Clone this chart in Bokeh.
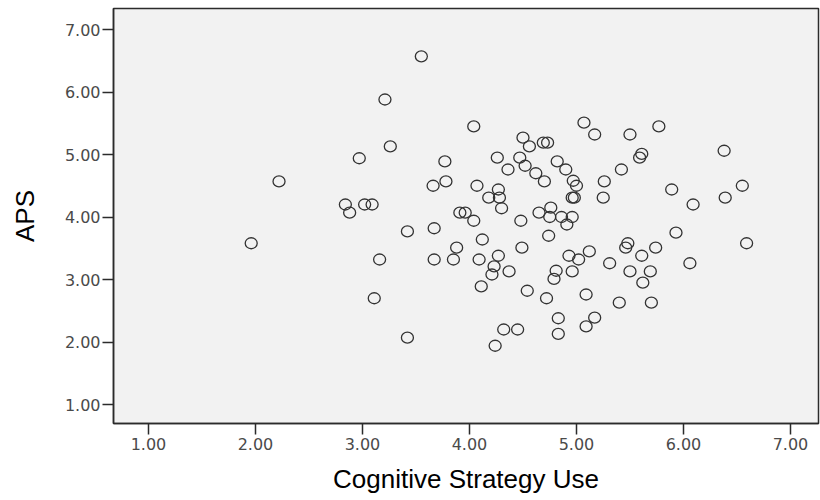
from bokeh.plotting import figure
from bokeh.models import FixedTicker, PrintfTickFormatter, Range1d
from bokeh.embed import file_html
from bokeh.resources import INLINE

cognitive = [1.96, 2.22, 2.84, 2.88, 3.02, 3.09, 2.97, 3.26, 3.21, 3.55,
             3.16, 3.11, 3.42, 3.42, 3.66, 3.67, 3.67, 3.78, 3.77, 3.85,
             3.88, 3.91, 3.96, 4.04, 4.04, 4.07, 4.09, 4.11, 4.12, 4.18,
             4.21, 4.23, 4.24, 4.26, 4.27, 4.28, 4.27, 4.30, 4.32, 4.36,
             4.37, 4.45, 4.47, 4.48, 4.49, 4.50, 4.52, 4.54, 4.56, 4.62,
             4.65, 4.69, 4.73, 4.70, 4.72, 4.74, 4.75, 4.76, 4.79, 4.81,
             4.82, 4.83, 4.83, 4.86, 4.90, 4.91, 4.93, 4.96, 4.96, 4.96,
             4.98, 4.97, 5.00, 5.02, 5.07, 5.09, 5.09, 5.12, 5.17, 5.17,
             5.25, 5.26, 5.31, 5.42, 5.40, 5.46, 5.48, 5.50, 5.50, 5.59,
             5.61, 5.61, 5.62, 5.69, 5.70, 5.74, 5.77, 5.89, 5.93, 6.06,
             6.09, 6.38, 6.39, 6.55, 6.59]
aps = [3.58, 4.57, 4.20, 4.07, 4.20, 4.20, 4.94, 5.13, 5.88, 6.57,
       3.32, 2.70, 3.77, 2.07, 4.50, 3.82, 3.32, 4.57, 4.89, 3.32,
       3.51, 4.07, 4.07, 3.94, 5.45, 4.50, 3.32, 2.89, 3.64, 4.31,
       3.08, 3.21, 1.94, 4.95, 4.44, 4.31, 3.38, 4.14, 2.20, 4.76,
       3.13, 2.20, 4.95, 3.94, 3.51, 5.27, 4.82, 2.82, 5.13, 4.70,
       4.07, 5.19, 5.19, 4.57, 2.70, 3.70, 4.00, 4.15, 3.01, 3.14,
       4.89, 2.38, 2.13, 4.00, 4.76, 3.88, 3.38, 4.00, 3.13, 4.31,
       4.31, 4.58, 4.50, 3.32, 5.51, 2.76, 2.25, 3.45, 5.32, 2.39,
       4.31, 4.57, 3.26, 4.76, 2.63, 3.51, 3.58, 5.32, 3.13, 4.95,
       5.01, 3.38, 2.95, 3.13, 2.63, 3.51, 5.45, 4.44, 3.75, 3.26,
       4.20, 5.06, 4.31, 4.50, 3.58]

ticks = [1, 2, 3, 4, 5, 6, 7]
x_title = "Cognitive Strategy Use"
y_title = "APS"

p = figure(output_backend="svg", toolbar_location=None,
           frame_width=705, frame_height=415,
           min_border_left=113, min_border_right=2,
           min_border_top=8, min_border_bottom=77,
           x_range=Range1d(0.673, 7.262), y_range=Range1d(0.696, 7.336))

p.background_fill_color = "#f2f2f2"
p.border_fill_color = "white"
p.outline_line_color = "#2b2b2b"
p.outline_line_width = 1.5
p.xgrid.visible = False
p.ygrid.visible = False

for ax in (p.xaxis[0], p.yaxis[0]):
    ax.ticker = FixedTicker(ticks=ticks)
    ax.formatter = PrintfTickFormatter(format="%.2f")
    ax.minor_tick_line_color = None
    ax.major_tick_in = 0
    ax.major_tick_out = 11
    ax.major_tick_line_color = "#2b2b2b"
    ax.major_tick_line_width = 1.5
    ax.axis_line_color = "#2b2b2b"
    ax.axis_line_width = 1.5
    ax.major_label_text_font = "DejaVu Sans"
    ax.major_label_text_font_size = "16px"
    ax.major_label_text_color = "#4a4a4a"
    ax.axis_label_text_font = "Liberation Sans"
    ax.axis_label_text_font_size = "26px"
    ax.axis_label_text_font_style = "normal"
    ax.axis_label_text_color = "black"

p.xaxis.axis_label = x_title
p.yaxis.axis_label = y_title
p.xaxis.major_label_standoff = 3
p.xaxis.axis_label_standoff = 11
p.yaxis.major_label_standoff = 2
p.yaxis.axis_label_standoff = 22

p.ellipse(x=cognitive, y=aps, width=12, height=11,
          width_units="screen", height_units="screen",
          fill_color=None, line_color="#333333", line_width=1.3)

open("out.html", "w").write(file_html(p, INLINE))
